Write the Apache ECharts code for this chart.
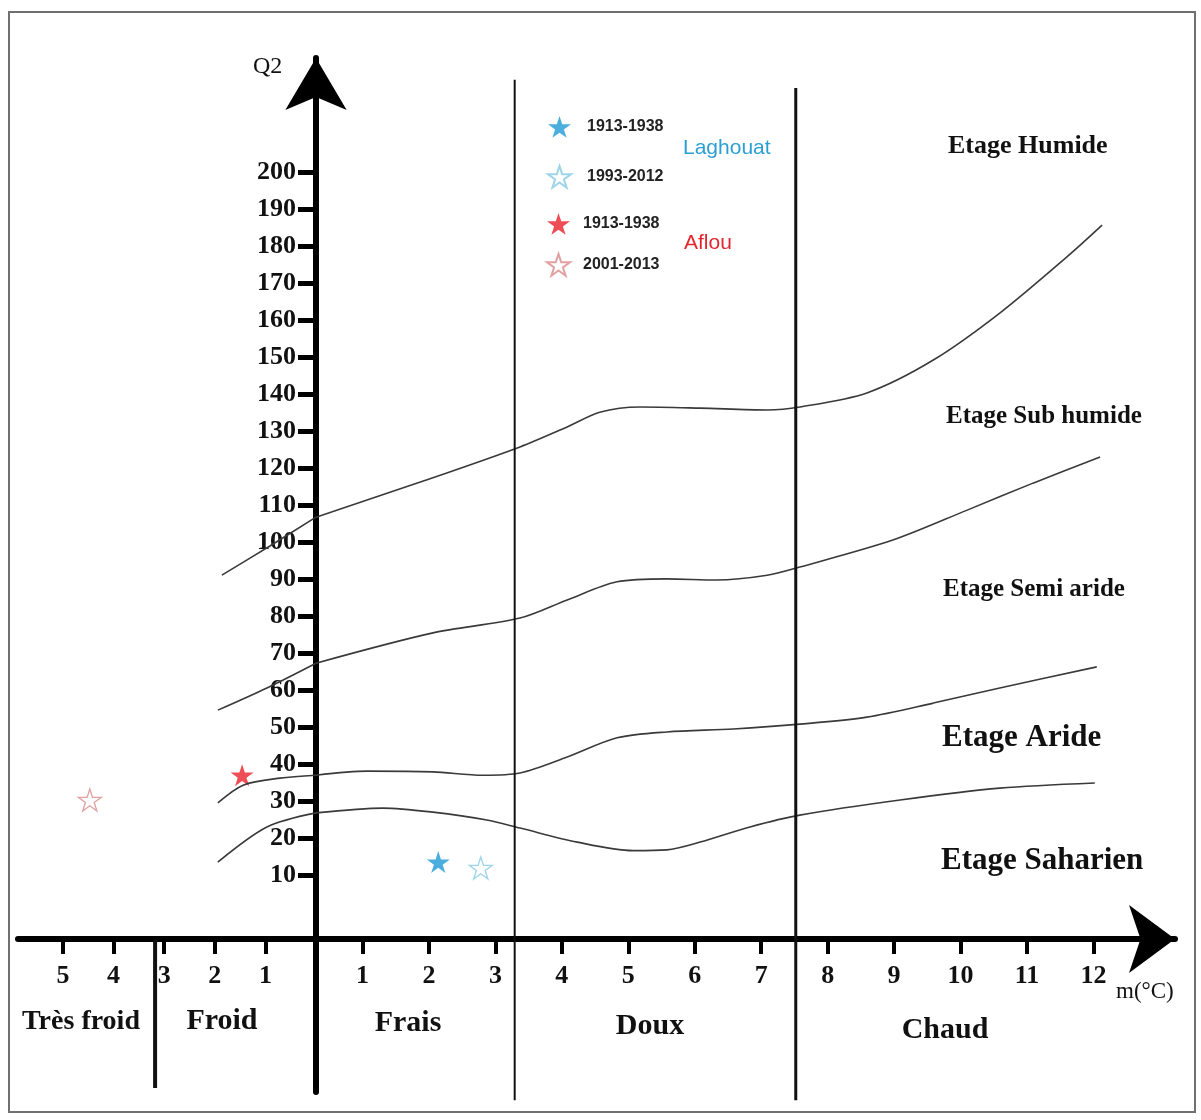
<!DOCTYPE html>
<html>
<head>
<meta charset="utf-8">
<title>Climagramme d'Emberger - Laghouat / Aflou</title>
<script src="https://cdn.jsdelivr.net/npm/echarts@6/dist/echarts.min.js"></script>
<style>
html, body { margin: 0; padding: 0; background: #fff; }
#chart { width: 1201px; height: 1120px; }
</style>
</head>
<body>
<div id="chart"></div>
<script>
// ticks
const mTicksFroid = [-5, -4, -3, -2, -1];
const mTicksChaud = [1, 2, 3, 4, 5, 6, 7, 8, 9, 10, 11, 12];
const q2Ticks = [10, 20, 30, 40, 50, 60, 70, 80, 90, 100, 110, 120, 130, 140, 150, 160, 170, 180, 190, 200];

// limites des étages bioclimatiques [m, Q2], côté m < 0 et côté m > 0
const humideFroid = [[-1.86, 91.1], [-0.91, 99.0], [0, 106.8]];
const humideChaud = [[0.3, 106.8], [1.87, 116.3], [3.37, 125.8], [4.08, 131.2], [4.57, 135.2], [5.18, 136.6], [6.08, 136.3], [7.09, 135.8], [7.58, 136.6], [8.59, 140.4], [9.59, 149.3], [10.59, 162.0], [11.6, 177.2], [12.13, 185.8]];
const subHumideFroid = [[-1.94, 54.6], [-0.97, 60.6], [0, 67.3]];
const subHumideChaud = [[0.3, 67.3], [2.06, 75.5], [3.37, 79.5], [4.08, 84.4], [4.83, 89.3], [5.58, 90.1], [6.33, 89.8], [7.09, 91.1], [7.58, 93.3], [8.98, 100.6], [10.1, 108.7], [11.09, 116.0], [12.1, 123.1]];
const semiArideFroid = [[-1.94, 29.5], [-1.44, 34.3], [-0.71, 36.2], [0, 37.0]];
const semiArideChaud = [[0.3, 37.0], [1.07, 38.1], [2.06, 37.9], [2.81, 37.0], [3.37, 37.6], [4.08, 41.9], [4.83, 47.1], [5.58, 48.7], [6.58, 49.5], [7.58, 50.8], [8.59, 52.7], [9.59, 56.5], [10.59, 60.6], [12.05, 66.3]];
const arideFroid = [[-1.94, 13.5], [-0.97, 23.0], [0, 26.8]];
const arideChaud = [[0.3, 26.8], [1.31, 28.1], [2.06, 27.0], [2.87, 24.9], [3.37, 22.7], [4.23, 18.9], [5.07, 16.6], [5.58, 16.8], [6.08, 18.9], [6.83, 23.0], [7.58, 26.2], [9.09, 30.3], [10.59, 33.5], [12.02, 34.9]];

// limites des variantes thermiques
const limiteTresFroid = [[-3.18, -7.6], [-3.18, -47.6]];
const limiteFraisDoux = [[3.29, 225.1], [3.29, -50.9]];
const limiteDouxChaud = [[7.52, 222.9], [7.52, -50.9]];

// stations [m, Q2]
const laghouat1913 = [[2.14, 13.5]];
const laghouat1993 = [[2.78, 11.9]];
const aflou1913 = [[-1.46, 37.0]];
const aflou2001 = [[-4.47, 30.3]];

const STAR = "path://M50,0L61.2,34.5L97.6,34.5L68.2,55.9L79.4,90.5L50,69.1L20.6,90.5L31.8,55.9L2.4,34.5L38.8,34.5Z";
const SERIF = "Liberation Serif";
const SANS = "Liberation Sans";

const chart = echarts.init(document.getElementById("chart"));

function curve(data, grid) {
    return {
        type: "line",
        xAxisIndex: grid,
        yAxisIndex: grid,
        data: data,
        smooth: 0.3,
        symbol: "none",
        silent: true,
        lineStyle: { color: "#3a3a3a", width: 1.6 },
    };
}

function limite(data, grid, width) {
    return {
        type: "line",
        xAxisIndex: grid,
        yAxisIndex: grid,
        data: data,
        clip: false,
        symbol: "none",
        silent: true,
        lineStyle: { color: "#111", width: width },
    };
}

function station(name, data, grid, color, hollow) {
    return {
        name: name,
        type: "scatter",
        xAxisIndex: grid,
        yAxisIndex: grid,
        data: data,
        symbol: STAR,
        symbolSize: [23, 22],
        itemStyle: hollow
            ? { color: "#fff", borderColor: color, borderWidth: 1.3 }
            : { color: color },
    };
}

const labelStyle = {
    fontFamily: SERIF,
    fontWeight: "bold",
    fontSize: 26,
    color: "#111",
};

const legendText = {
    fontFamily: SANS,
    fontWeight: "bold",
    fontSize: 16,
    color: "#222",
};

function text(str, x, y, size, weight, color, family, align) {
    return {
        type: "text",
        x: x,
        y: y,
        style: {
            text: str,
            fontFamily: family || SERIF,
            fontSize: size,
            fontWeight: weight,
            fill: color || "#111",
            align: align || "left",
            verticalAlign: "middle",
        },
    };
}

chart.setOption({
    backgroundColor: "#fff",
    animation: false,
    grid: [
        // m < 0
        { left: 18, top: 58, width: 298, bottom: 28 },
        // m > 0
        { left: 316, top: 58, width: 859, bottom: 28 },
    ],
    xAxis: [
        {
            type: "value",
            gridIndex: 0,
            min: -5.889,
            max: 0,
            offset: -153,
            axisLine: { onZero: false, lineStyle: { color: "#000", width: 6 } },
            axisTick: { customValues: mTicksFroid, length: 15, lineStyle: { color: "#000", width: 4 } },
            axisLabel: Object.assign({ customValues: mTicksFroid, margin: 24, formatter: (v) => Math.abs(v) }, labelStyle),
            splitLine: { show: false },
        },
        {
            type: "value",
            gridIndex: 1,
            min: 0.3,
            max: 13.227,
            offset: -153,
            axisLine: {
                onZero: false,
                symbol: ["none", "arrow"],
                symbolSize: [51, 46],
                lineStyle: { color: "#000", width: 6 },
            },
            axisTick: { customValues: mTicksChaud, length: 15, lineStyle: { color: "#000", width: 4 } },
            axisLabel: Object.assign({ customValues: mTicksChaud, margin: 24 }, labelStyle),
            splitLine: { show: false },
        },
    ],
    yAxis: [
        {
            type: "value",
            gridIndex: 0,
            min: -48.7,
            max: 231,
            show: false,
        },
        {
            type: "value",
            gridIndex: 1,
            min: -48.7,
            max: 231,
            axisLine: {
                show: true,
                onZero: false,
                symbol: ["none", "arrow"],
                symbolSize: [46, 52],
                lineStyle: { color: "#000", width: 6 },
            },
            axisTick: { customValues: q2Ticks, length: 18, lineStyle: { color: "#000", width: 5 } },
            axisLabel: Object.assign({ customValues: q2Ticks, margin: 20 }, labelStyle),
            splitLine: { show: false },
        },
    ],
    legend: [
        {
            data: ["Laghouat 1913-1938", "Laghouat 1993-2012"],
            orient: "vertical",
            left: 542,
            top: 111,
            itemWidth: 23,
            itemHeight: 22,
            itemGap: 27,
            selectedMode: false,
            formatter: (name) => name.split(" ")[1],
            textStyle: Object.assign({ padding: [0, 0, 0, 11] }, legendText),
        },
        {
            data: ["Aflou 1913-1938", "Aflou 2001-2013"],
            orient: "vertical",
            left: 541,
            top: 208,
            itemWidth: 23,
            itemHeight: 22,
            itemGap: 18,
            selectedMode: false,
            formatter: (name) => name.split(" ")[1],
            textStyle: Object.assign({ padding: [0, 0, 0, 8] }, legendText),
        },
    ],
    graphic: [
        {
            type: "rect",
            shape: { x: 9, y: 12, width: 1186, height: 1100 },
            style: { fill: "none", stroke: "#707070", lineWidth: 2 },
            silent: true,
        },
        text("Q2", 253, 67, 24, "normal"),
        text("m(°C)", 1116, 992, 23, "normal"),
        text("Laghouat", 683, 148, 21, "normal", "#2b9fd4", SANS),
        text("Aflou", 684, 243, 21, "normal", "#e2262e", SANS),
        text("Etage Humide", 948, 146, 26, "bold"),
        text("Etage Sub humide", 946, 417, 25, "bold"),
        text("Etage Semi aride", 943, 590, 25, "bold"),
        text("Etage Aride", 942, 738, 31, "bold"),
        text("Etage Saharien", 941, 861, 31, "bold"),
        text("Très froid", 81, 1022, 28, "bold", null, null, "center"),
        text("Froid", 222, 1021, 30, "bold", null, null, "center"),
        text("Frais", 408, 1023, 30, "bold", null, null, "center"),
        text("Doux", 650, 1026, 30, "bold", null, null, "center"),
        text("Chaud", 945, 1030, 30, "bold", null, null, "center"),
    ],
    series: [
        curve(humideFroid, 0),
        curve(humideChaud, 1),
        curve(subHumideFroid, 0),
        curve(subHumideChaud, 1),
        curve(semiArideFroid, 0),
        curve(semiArideChaud, 1),
        curve(arideFroid, 0),
        curve(arideChaud, 1),
        limite(limiteTresFroid, 0, 4),
        limite(limiteFraisDoux, 1, 2),
        limite(limiteDouxChaud, 1, 3),
        station("Laghouat 1913-1938", laghouat1913, 1, "#1e9ad6", false),
        station("Laghouat 1993-2012", laghouat1993, 1, "#86c9e3", true),
        station("Aflou 1913-1938", aflou1913, 0, "#e8202a", false),
        station("Aflou 2001-2013", aflou2001, 0, "#d98a8a", true),
    ],
});
</script>
</body>
</html>
